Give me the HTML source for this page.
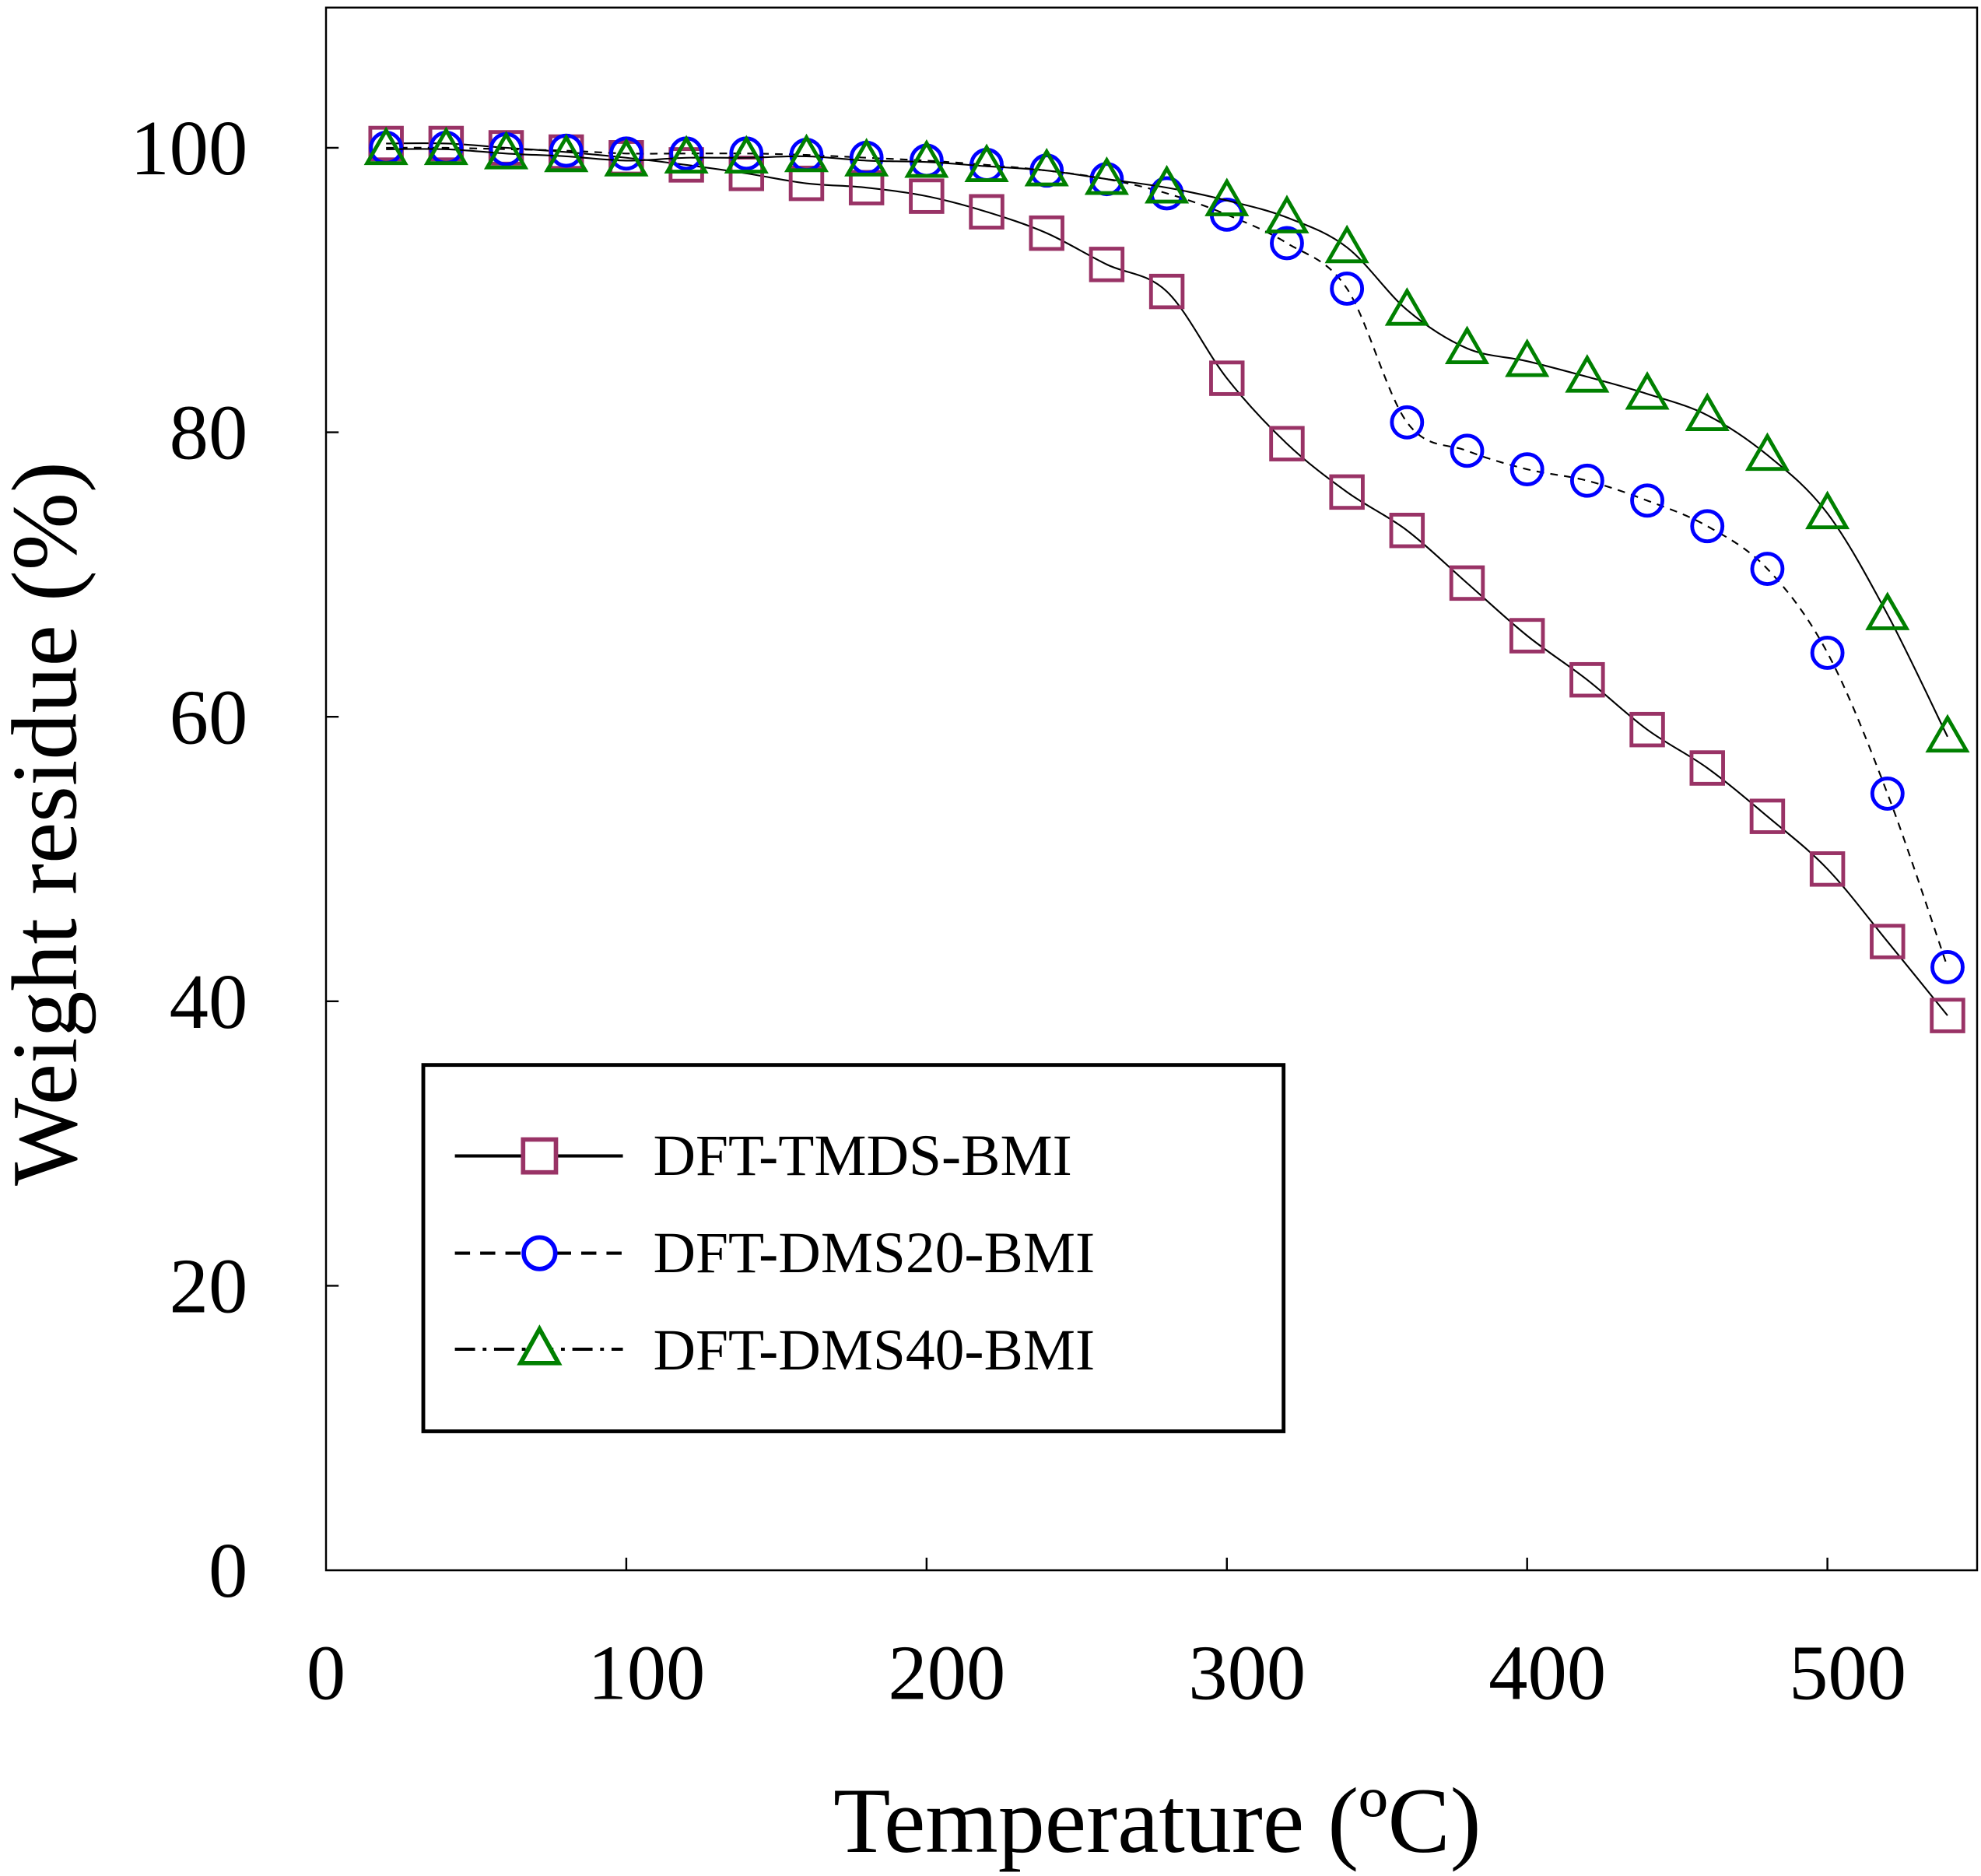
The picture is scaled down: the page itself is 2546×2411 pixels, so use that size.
<!DOCTYPE html>
<html><head><meta charset="utf-8"><style>html,body{margin:0;padding:0;background:#fff}svg{display:block}text{font-family:"Liberation Serif",serif;fill:#000}</style></head>
<body>
<svg id="chart" width="2546" height="2411" viewBox="0 0 1568 1485" xmlns="http://www.w3.org/2000/svg">
<rect x="258" y="6" width="1307" height="1237" fill="none" stroke="#000" stroke-width="1.5"/>
<g id="axes"></g>
<g id="series"></g>
<text x="60" y="652" font-size="74" text-anchor="middle" transform="rotate(-90 60 652)">Weight residue (%)</text>
<text x="916" y="1466" font-size="74" text-anchor="middle">Temperature (ºC)</text>
<g>
<rect x="335" y="843" width="681" height="290" fill="#fff" stroke="#000" stroke-width="3"/>
<g>
<line x1="360" y1="915" x2="493" y2="915" stroke="#000" stroke-width="2.5"/>
<rect x="414" y="902" width="26" height="26" fill="#fff" stroke="#993366" stroke-width="3.5"/>
<text x="517" y="930" font-size="46.5">DFT-TMDS-BMI</text></g>
<g>
<line x1="360" y1="992" x2="493" y2="992" stroke="#000" stroke-width="2.5" stroke-dasharray="12,8"/>
<circle cx="427" cy="992" r="12.5" fill="#fff" stroke="#0000ff" stroke-width="3.5"/>
<text x="517" y="1007" font-size="46.5">DFT-DMS20-BMI</text></g>
<g>
<line x1="360" y1="1068" x2="493" y2="1068" stroke="#000" stroke-width="2.5" stroke-dasharray="16,6,3,6"/>
<polygon points="427,1052 442,1079 412,1079" fill="#fff" stroke="#008000" stroke-width="3.5"/>
<text x="517" y="1084" font-size="46.5">DFT-DMS40-BMI</text></g>
</g>
</svg>
<script>
const temps=[20,40,60,80,100,120,140,160,180,200,220,240,260,280,300,320,340,360,380,400,420,440,460,480,500,520,540];
const tmds=[100.3,100.3,100,99.7,99.3,98.8,98.2,97.5,97.2,96.6,95.5,94,91.8,89.9,83.8,79.2,75.8,73.1,69.4,65.7,62.6,59.1,56.4,53,49.3,44.2,39];
const dms20=[100,100,99.9,99.8,99.6,99.6,99.6,99.5,99.3,99.1,98.8,98.4,97.8,96.8,95.3,93.3,90.1,80.7,78.7,77.4,76.6,75.2,73.4,70.4,64.5,54.6,42.4];
const dms40=[99.9,99.9,99.6,99.4,99.1,99.3,99.3,99.4,99.1,99,98.7,98.4,97.8,97.2,96.3,95.1,93,88.6,85.9,85,83.9,82.7,81.2,78.4,74.3,67.2,58.6];
const xTicks=[0,100,200,300,400,500];
const yTicks=[0,20,40,60,80,100];
const NS="http://www.w3.org/2000/svg";
function X(v){return 258+v*2.377;}
function Y(v){return 1243-v*11.26;}
function mk(tag,attrs,parent){const e=document.createElementNS(NS,tag);for(const k in attrs)e.setAttribute(k,attrs[k]);parent.appendChild(e);return e;}
const axes=document.getElementById('axes');
xTicks.forEach(t=>{
 if(t>0){const l=mk('line',{x1:X(t),x2:X(t),y1:1243,y2:1233,stroke:'#000','stroke-width':1.5},axes);
 
 }
 const tx=mk('text',{x:X(t)+(t===0?0:16),y:1345,'font-size':62,'text-anchor':'middle'},axes);tx.textContent=t;
 
 
});
yTicks.forEach(t=>{
 if(t>0){const l=mk('line',{x1:258,x2:268,y1:Y(t),y2:Y(t),stroke:'#000','stroke-width':1.5},axes);
 
 }
 const tx=mk('text',{x:196,y:Y(t)+21,'font-size':62,'text-anchor':'end'},axes);tx.textContent=t;
 
 
});
function smooth(pts){let d='M'+pts[0][0]+','+pts[0][1];
 for(let i=0;i<pts.length-1;i++){const p0=pts[Math.max(0,i-1)],p1=pts[i],p2=pts[i+1],p3=pts[Math.min(pts.length-1,i+2)];
 const c1=[p1[0]+(p2[0]-p0[0])/6,p1[1]+(p2[1]-p0[1])/6],c2=[p2[0]-(p3[0]-p1[0])/6,p2[1]-(p3[1]-p1[1])/6];
 d+=' C'+c1[0]+','+c1[1]+' '+c2[0]+','+c2[1]+' '+p2[0]+','+p2[1];}return d;}
const sg=document.getElementById('series');
const defs=[[tmds,'tmds','square','#993366',null],[dms20,'dms20','circle','#0000ff','6,5'],[dms40,'dms40','triangle','#008000',null]];
defs.forEach(([vals,name,shape,col,dash])=>{
 const g=mk('g',{},sg);
 
 
 const pts=temps.map((t,i)=>[X(t),Y(vals[i])]);
 const p=mk('path',{d:smooth(pts),fill:'none',stroke:'#000','stroke-width':1.3},g);
 if(dash)p.setAttribute('stroke-dasharray',dash);
 
 
 pts.forEach(([x,y])=>{let m;
  if(shape==='square')m=mk('rect',{x:x-12.5,y:y-12.5,width:25,height:25,fill:'none',stroke:col,'stroke-width':3},g);
  else if(shape==='circle')m=mk('circle',{cx:x,cy:y,r:12,fill:'none',stroke:col,'stroke-width':3},g);
  else m=mk('polygon',{points:(x)+','+(y-15)+' '+(x+15)+','+(y+11)+' '+(x-15)+','+(y+11),fill:'none',stroke:col,'stroke-width':3},g);
  
  
 });
});
</script>
</body></html>
